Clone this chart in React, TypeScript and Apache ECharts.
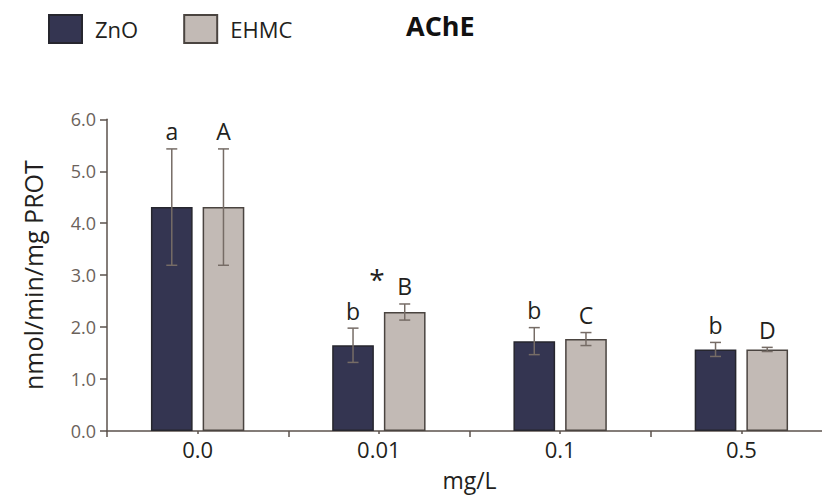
import React, { useEffect, useRef } from "react";
import * as echarts from "echarts";

const categories = ["0.0", "0.01", "0.1", "0.5"];
const znoMean = [4.31, 1.65, 1.73, 1.57];
const znoErr = [1.12, 0.33, 0.26, 0.135];
const ehmcMean = [4.31, 2.29, 1.77, 1.57];
const ehmcErr = [1.12, 0.155, 0.125, 0.04];
const znoLetters = ["a", "b", "b", "b"];
const ehmcLetters = ["A", "B", "C", "D"];
const starMarks = [{ cat: 1, y: 2.93, text: "*" }];
const yTicks = [0, 1, 2, 3, 4, 5, 6];

const FONT = "'Open Sans', 'DejaVu Sans', sans-serif";
const ZNO_COLOR = "#343551";
const EHMC_COLOR = "#c2bab5";
const BAR_W = 0.23;
const BAR_GAP = 0.24;

export default function App() {
  const ref = useRef<HTMLDivElement>(null);
  useEffect(() => {
    if (!ref.current) return;
    document.body.style.margin = "0";
    const chart = echarts.init(ref.current, null, { renderer: "svg", width: 822, height: 495 });

    const errData = (means: number[], errs: number[], letters: string[], side: number) =>
      means.map((m, i) => [i, m - errs[i], m + errs[i], letters[i], side]);

    const renderErr = (params: any, api: any) => {
      const idx = api.value(0);
      const lo = api.value(1);
      const hi = api.value(2);
      const letter = api.value(3);
      const side = api.value(4);
      const band = api.size([1, 0])[0];
      const off = band * BAR_W * (1 + BAR_GAP) / 2 * side;
      const pLo = api.coord([idx, lo]);
      const pHi = api.coord([idx, hi]);
      const x = pLo[0] + off;
      const cap = 5.5;
      const st = { stroke: "#766c66", lineWidth: 1.5 };
      return {
        type: "group",
        children: [
          { type: "line", shape: { x1: x, y1: pLo[1], x2: x, y2: pHi[1] }, style: st },
          { type: "line", shape: { x1: x - cap, y1: pLo[1], x2: x + cap, y2: pLo[1] }, style: st },
          { type: "line", shape: { x1: x - cap, y1: pHi[1], x2: x + cap, y2: pHi[1] }, style: st },
          {
            type: "text",
            x: x,
            y: pHi[1] - 6,
            style: {
              text: letter,
              fontSize: 23,
              fontFamily: FONT,
              fill: "#231f20",
              align: "center",
              verticalAlign: "bottom",
            },
          },
        ],
      };
    };

    const renderStar = (params: any, api: any) => {
      const p = api.coord([api.value(0), api.value(1)]);
      return {
        type: "text",
        x: p[0] - 2,
        y: p[1],
        style: {
          text: starMarks[params.dataIndex].text,
          fontSize: 28,
          fontFamily: FONT,
          fill: "#231f20",
          align: "center",
          verticalAlign: "middle",
        },
      };
    };

    chart.setOption({
      animation: false,
      title: {
        text: "AChE",
        left: 406,
        top: 12,
        padding: 0,
        textStyle: { fontSize: 27, fontWeight: "bold", fontFamily: FONT, color: "#111" },
      },
      legend: {
        data: ["ZnO", "EHMC"],
        left: 48,
        top: 14,
        padding: 0,
        icon: "rect",
        itemWidth: 33,
        itemHeight: 28,
        itemGap: 45,
        textStyle: { fontSize: 22, fontFamily: FONT, color: "#231f20", padding: [0, 0, 0, 8] },
      },
      grid: {
        left: 107,
        top: 119.3,
        bottom: 64,
        right: -10,
        containLabel: false,
        outerBoundsMode: "none",
      },
      xAxis: [
        {
          type: "category",
          data: categories,
          position: "bottom",
          name: "mg/L",
          nameLocation: "middle",
          nameGap: 37,
          nameTextStyle: { fontSize: 23, fontFamily: FONT, color: "#231f20" },
          axisLine: { lineStyle: { color: "#5b524c", width: 1.5 } },
          axisTick: { show: true, length: 6, lineStyle: { color: "#5b524c", width: 1.5 } },
          axisLabel: { fontSize: 22, fontFamily: FONT, color: "#231f20", margin: 7 },
        },
        {
          type: "category",
          data: categories,
          position: "bottom",
          axisLine: { show: false },
          axisTick: { show: true, alignWithLabel: true, length: 3, lineStyle: { color: "#5b524c", width: 1.5 } },
          axisLabel: { show: false },
        },
      ],
      yAxis: {
        type: "value",
        min: yTicks[0],
        max: yTicks[yTicks.length - 1],
        interval: 1,
        name: "nmol/min/mg PROT",
        nameLocation: "middle",
        nameGap: 62,
        nameTextStyle: { fontSize: 25, fontFamily: FONT, color: "#231f20" },
        splitLine: { show: false },
        axisLine: { show: true, lineStyle: { color: "#5b524c", width: 1.5 } },
        axisTick: { show: true, length: 7, lineStyle: { color: "#5b524c", width: 1.5 } },
        axisLabel: {
          fontSize: 18,
          fontFamily: FONT,
          color: "#6b625b",
          margin: 11,
          formatter: (v: number) => v.toFixed(1),
        },
      },
      series: [
        {
          name: "ZnO",
          type: "bar",
          data: znoMean,
          barWidth: BAR_W * 100 + "%",
          barGap: BAR_GAP * 100 + "%",
          itemStyle: { color: ZNO_COLOR, borderColor: "#26262e", borderWidth: 1.5 },
        },
        {
          name: "EHMC",
          type: "bar",
          data: ehmcMean,
          barWidth: BAR_W * 100 + "%",
          barGap: BAR_GAP * 100 + "%",
          itemStyle: { color: EHMC_COLOR, borderColor: "#4a4440", borderWidth: 1.5 },
        },
        {
          type: "custom",
          renderItem: renderErr,
          data: errData(znoMean, znoErr, znoLetters, -1),
          z: 5,
          silent: true,
        },
        {
          type: "custom",
          renderItem: renderErr,
          data: errData(ehmcMean, ehmcErr, ehmcLetters, 1),
          z: 5,
          silent: true,
        },
        {
          type: "custom",
          renderItem: renderStar,
          data: starMarks.map((s) => [s.cat, s.y]),
          z: 5,
          silent: true,
        },
      ],
    });
    return () => chart.dispose();
  }, []);
  return <div ref={ref} style={{ width: 822, height: 495, background: "#fff" }} />;
}
